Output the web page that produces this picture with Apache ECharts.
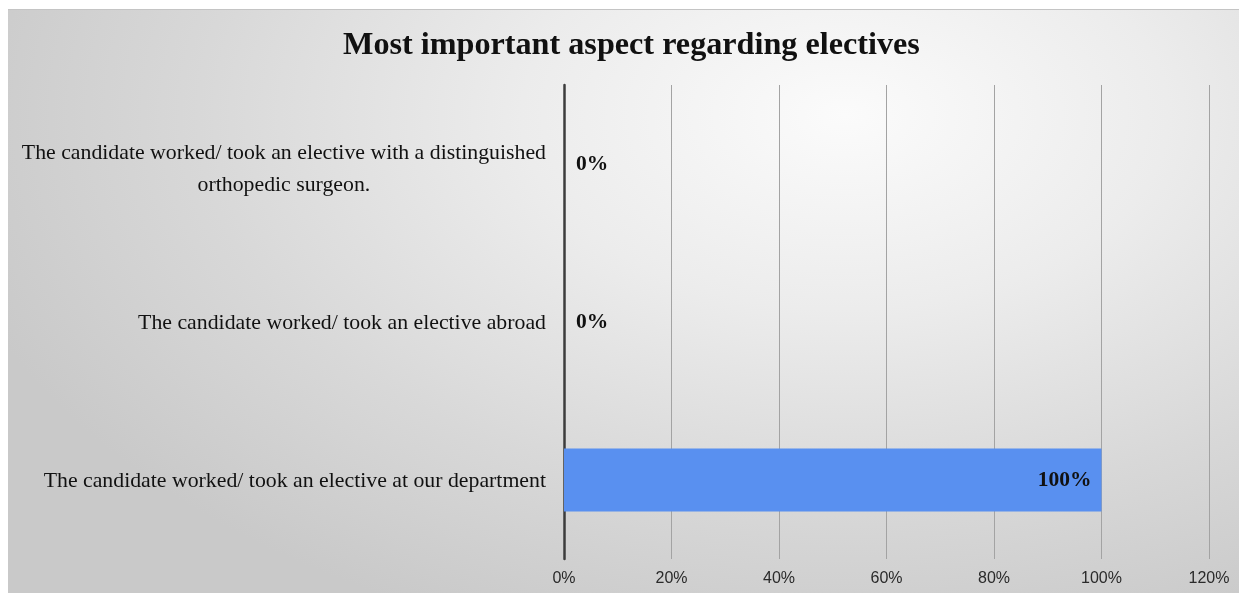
<!DOCTYPE html>
<html>
<head>
<meta charset="UTF-8">
<title>Most important aspect regarding electives</title>
<script src="https://cdn.jsdelivr.net/npm/echarts@6/dist/echarts.min.js"></script>
<style>
  html, body { margin: 0; padding: 0; background: #fff; }
  #bg {
    position: absolute; left: 8px; top: 9px; width: 1231px; height: 584px;
    border-top: 1px solid #c4c4c4;
    background: radial-gradient(ellipse 75% 95% at 68% 18%, #fbfbfb 0%, #ececec 35%, #d8d8d8 70%, #c9c9c9 100%);
  }
  #main { position: absolute; left: 0; top: 0; width: 1239px; height: 593px; }
</style>
</head>
<body>
<div id="bg"></div>
<div id="main"></div>
<script>
  // bottom -> top, as echarts stacks categories upward
  const categories = [
    'The candidate worked/ took an elective at our department',
    'The candidate worked/ took an elective abroad',
    'The candidate worked/ took an elective with a distinguished\northopedic surgeon.'
  ];
  const values = [100, 0, 0];
  const xTicks = { min: 0, max: 120, interval: 20 };

  const labelFont = { fontFamily: 'Liberation Serif', fontSize: 21.8, lineHeight: 32, color: '#111', align: 'center' };

  const chart = echarts.init(document.getElementById('main'));
  const option = {
    backgroundColor: 'transparent',
    animation: false,
    title: {
      text: 'Most important aspect regarding electives',
      left: 338,
      top: 25,
      textStyle: { fontFamily: 'Liberation Serif', fontWeight: 'bold', fontSize: 32.2, color: '#111' }
    },
    grid: { left: 564, right: 30, top: 85, bottom: 34, containLabel: false },
    xAxis: {
      type: 'value',
      min: xTicks.min, max: xTicks.max, interval: xTicks.interval,
      axisLine: { show: false },
      axisTick: { show: false },
      splitLine: { show: true, lineStyle: { color: '#a3a3a3', width: 1 } },
      axisLabel: {
        formatter: '{value}%', margin: 12,
        fontFamily: 'Liberation Sans', fontSize: 16, color: '#2a2a2a'
      }
    },
    yAxis: {
      type: 'category',
      data: categories,
      axisLine: { show: true, lineStyle: { color: '#3c3c3c', width: 2.5 } },
      axisTick: { show: false },
      axisLabel: {
        margin: 18,
        formatter: v => (v.indexOf('\n') >= 0 ? '{b|' : '{a|') + v + '}',
        rich: {
          a: Object.assign({}, labelFont, { padding: [2, 0, 0, 0] }),
          b: Object.assign({}, labelFont, { padding: [10, 0, 0, 0] })
        }
      }
    },
    series: [{
      type: 'bar',
      barWidth: '40%',
      itemStyle: { color: '#5990f0' },
      data: values.map(v => ({
        value: v,
        label: {
          show: true,
          position: v > 0 ? 'insideRight' : 'right',
          distance: v > 0 ? 10 : 12,
          formatter: '{c}%',
          fontFamily: 'Liberation Serif', fontWeight: 'bold', fontSize: 21.5, color: '#111'
        }
      }))
    }]
  };
  chart.setOption(option);
</script>
</body>
</html>
